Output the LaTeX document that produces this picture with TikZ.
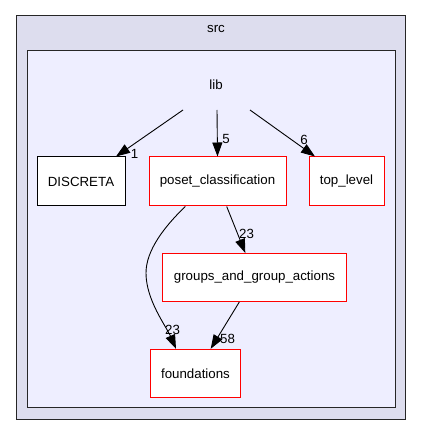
\documentclass[tikz,border=0pt]{standalone}
\usepackage{fontspec}
\setmainfont{Liberation Sans}
\usetikzlibrary{arrows.meta}
\definecolor{outerfill}{HTML}{DDDDEE}
\definecolor{innerfill}{HTML}{EEEEFF}
\tikzset{
  dirbox/.style={draw=black, line width=1pt, fill=white, minimum height=49pt, inner sep=0pt, font=\fontsize{13.3}{15}\selectfont},
  reddir/.style={dirbox, draw=red},
  edge/.style={draw=black, line width=0.9pt, arrows={-Triangle[length=14pt,width=10pt,scale=1.0]}},
  elabel/.style={font=\fontsize{13.3}{15}\selectfont, inner sep=0pt},
  cluster/.style={draw=black!85, line width=1pt}
}
\begin{document}
\begin{tikzpicture}[x=1pt,y=-1pt]
\useasboundingbox (0,0) rectangle (421,435);
\fill[white] (0,0) rectangle (421,435);
% clusters
\draw[cluster, fill=outerfill] (16,16) rectangle (405,419);
\node[elabel] (src) at (216,29) {src};
\draw[cluster, fill=innerfill] (27,51) rectangle (395,407);
\node[elabel] (lib) at (216,85) {lib};
% nodes
\node[dirbox, minimum width=88pt] (disc) at (81,181.5) {DISCRETA};
\node[reddir, minimum width=137pt] (poset) at (217.5,181.5) {poset\_classification};
\node[reddir, minimum width=75pt] (top) at (346.5,181.5) {top\_level};
\node[reddir, minimum width=184pt, minimum height=48pt] (groups) at (254.5,277.5) {groups\_and\_group\_actions};
\node[reddir, minimum width=90pt, minimum height=48pt] (found) at (195.5,373.3) {foundations};
% edge sources inside lib
\coordinate (l1) at (183,110);
\coordinate (l2) at (217,110);
\coordinate (l3) at (250,110);
% edges
\draw[edge] (l1) -- ([xshift=35pt]disc.north);
\node[elabel] (lab1) at (134.5,153.5) {1};
\draw[edge] (l2) -- (poset.north);
\node[elabel] (lab5) at (226,139) {5};
\draw[edge] (l3) -- ([xshift=-31.5pt]top.north);
\node[elabel] (lab6) at (304,139.5) {6};
\draw[edge] ([xshift=9.2pt]poset.south) -- ([xshift=-9.2pt]groups.north);
\node[elabel] (lab23a) at (246.5,233.5) {23};
\draw[edge] ([xshift=-32.2pt]poset.south) .. controls (165,226) and (146,250) .. (146,273) .. controls (146,300) and (166,326) .. ([xshift=-19.5pt]found.north);
\node[elabel] (lab23b) at (172.5,329.5) {23};
\draw[edge] ([xshift=-15.2pt]groups.south) -- ([xshift=15.2pt]found.north);
\node[elabel] (lab58) at (227.5,339) {58};
\end{tikzpicture}
\end{document}
